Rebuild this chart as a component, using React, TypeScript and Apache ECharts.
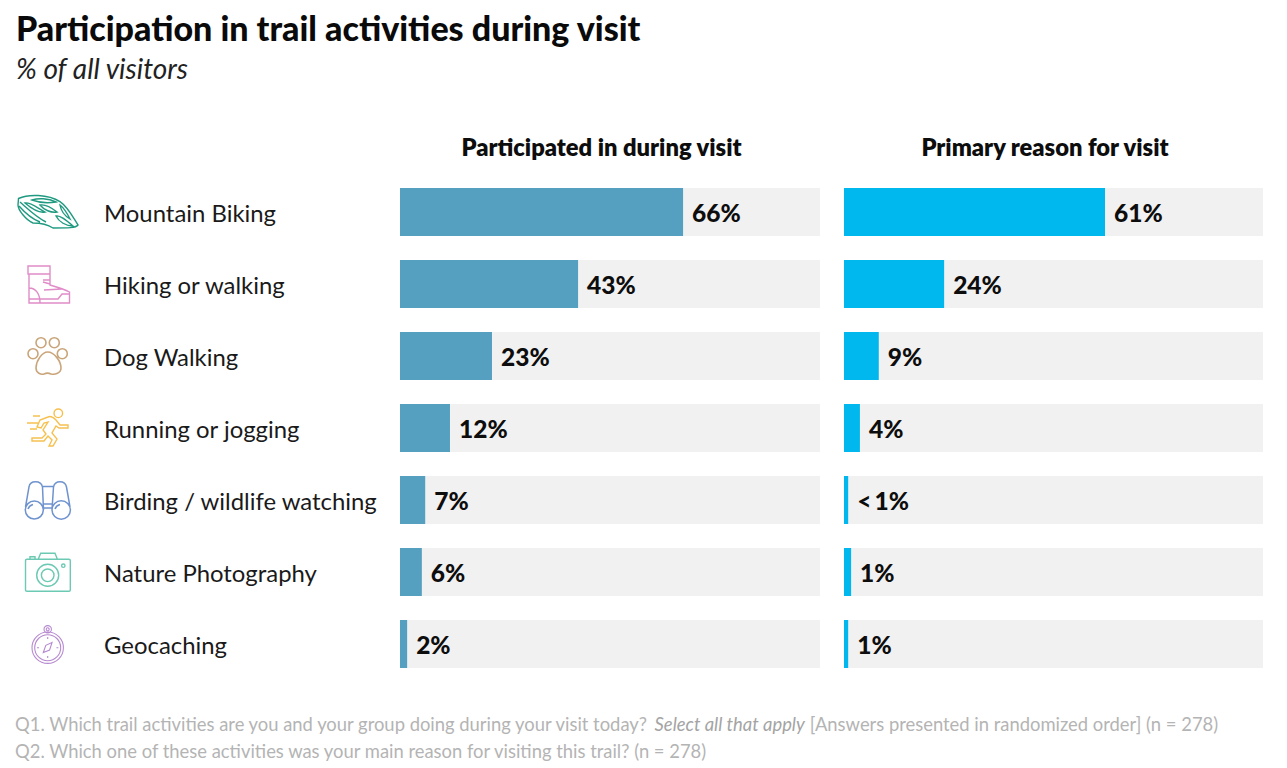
import React, { useEffect, useRef } from "react";
import * as echarts from "echarts";

const categories = ["Mountain Biking", "Hiking or walking", "Dog Walking", "Running or jogging", "Birding / wildlife watching", "Nature Photography", "Geocaching"];
const participatedValues = [67.4, 42.4, 21.9, 11.9, 6, 5.2, 1.7];
const participatedLabels = ["66%", "43%", "23%", "12%", "7%", "6%", "2%"];
const primaryValues = [62.3, 23.9, 8.3, 3.8, 1, 1.7, 1];
const primaryLabels = ["61%", "24%", "9%", "4%", "<\u20091%", "1%", "1%"];
const trackValues = [100, 100, 100, 100, 100, 100, 100];
const headers = ["Participated in during visit", "Primary reason for visit"];

const FONT = "Lato";

const icons: { name: string; color: string; w: number; d: string }[] = [
  { name: "helmet", color: "#1f9a80", w: 1.4, d: "M18.5 198.5C28 194 48 194 60 201.7C68 207 74 219 78 225C76 228 68 228 53 228C47 224 40 223 33 223C26 220 18 210 18 205ZM20 202C28 209 36 217 46 222M19 206C26 214 32 219 40 222M32 200C38 198 48 198 56 202C50 203 40 203 32 200ZM25 203C30 202 36 207 45 212C40 213 32 209 25 203ZM40 205C46 204 52 208 57 212C51 213 44 210 40 205ZM60 205C64 208 67 213 70 219C65 216 61 211 60 205ZM56 216C60 215 66 220 73 226C66 226 59 222 56 216Z" },
  { name: "boot", color: "#e08cc8", w: 1.4, d: "M28 266H50V274H28ZM29 274V303H69.5V292C64 289 57 287 50 285V274M29 288C36 288 40 294 40 303M50 280H43M50 284L43 282M44 290L62 289M29 299H58L62 294H69.5" },
  { name: "paw", color: "#c9a57a", w: 1.6, d: "M36 342.7a5 5 0 1 0 10 0a5 5 0 1 0-10 0ZM49.3 342.7a5 5 0 1 0 10 0a5 5 0 1 0-10 0ZM28 353.7a5 5 0 1 0 10 0a5 5 0 1 0-10 0ZM57.3 353.7a5 5 0 1 0 10 0a5 5 0 1 0-10 0ZM47.7 352C42 352 36 361 36 368C36 373 41 375 44 374C46 373 49 373 51 374C55 375 61 373 61 368C61 361 54 352 47.7 352Z" },
  { name: "runner", color: "#f6c04f", w: 1.4, d: "M54 413.3a4.3 4.3 0 1 0 8.6 0a4.3 4.3 0 1 0-8.6 0ZM48 417L40 420L37 427L41 428L44 423L48 422L43 430L46 434L42 438H32V441H44L48 436L52 440L49 446H53L57 439L52 433L56 426L59 428H68V425H60L56 420C53 417 50 416 48 417ZM33 416H40M27 423H38M30 429H37" },
  { name: "binoculars", color: "#6f93cf", w: 1.5, d: "M25.3 510a9 9 0 1 0 18 0a9 9 0 1 0-18 0ZM52 510a9.2 9.2 0 1 0 18.4 0a9.2 9.2 0 1 0-18.4 0ZM25.5 507L29 487C30 480 41 480 42.5 487L43.5 510M70 507L66.5 487C65 480 55 480 53.5 487L52 510M43 486.5H53M43 504H52M43 508H52M28 509C29 506 31 505 33 504.5M55 509C56 506 58 505 60 504.5" },
  { name: "camera", color: "#6cc9b3", w: 1.4, d: "M27 559.3H69C69.8 559.3 70.3 559.8 70.3 560.6V590C70.3 590.8 69.8 591.3 69 591.3H27C26 591.3 25.5 590.8 25.5 590V560.6C25.5 559.8 26 559.3 27 559.3ZM36.7 575.3a11 11 0 1 0 22 0a11 11 0 1 0-22 0ZM41.4 575.3a6.3 6.3 0 1 0 12.6 0a6.3 6.3 0 1 0-12.6 0ZM61.6 565.7a1.7 1.7 0 1 0 3.4 0a1.7 1.7 0 1 0-3.4 0ZM38.3 559L40.7 553.3H55L57.3 559M30 559V556.7H35V559" },
  { name: "compass", color: "#b78ad0", w: 1.1, d: "M32 647.7a15.7 15.7 0 1 0 31.4 0a15.7 15.7 0 1 0-31.4 0ZM34.7 647.7a13 13 0 1 0 26 0a13 13 0 1 0-26 0ZM44 629.3a3.7 3.7 0 1 0 7.4 0a3.7 3.7 0 1 0-7.4 0ZM46.2 629.3a1.5 1.5 0 1 0 3 0a1.5 1.5 0 1 0-3 0ZM52 642.6L49.6 650L43.3 652.6L45.8 645.3ZM47.7 637V639M47.7 656V658M37 647.7H39M56.4 647.7H58.4" },
];
icons.forEach((ic) => echarts.graphic.registerShape("icon_" + ic.name, (echarts.graphic as any).extendPath(ic.d, {})));

export default function App() {
  const ref = useRef<HTMLDivElement>(null);
  useEffect(() => {
    document.body.style.margin = "0";
    document.body.style.background = "#fff";
    const chart = echarts.init(ref.current!, undefined, { renderer: "svg" });
    const barSeries = (i: number, values: number[], labels: string[], color: string) => [
      {
        type: "bar", xAxisIndex: i, yAxisIndex: i, data: trackValues, barWidth: 48, barGap: "-100%", silent: true, z: 1,
        itemStyle: { color: "#f1f1f1" },
      },
      {
        type: "bar", xAxisIndex: i, yAxisIndex: i, data: values, barWidth: 48, z: 2,
        itemStyle: { color },
        label: {
          show: true, position: "right", distance: 9, padding: [0, 0, 4, 0],
          formatter: (p: any) => labels[p.dataIndex],
          fontFamily: FONT, fontWeight: 900, fontSize: 24.5, color: "#0d0d0d",
        },
      },
    ];
    chart.setOption({
      animation: false,
      backgroundColor: "#fff",
      title: [
        { text: "Participation in trail activities during visit", left: 11, top: 5, textStyle: { fontFamily: FONT, fontWeight: 900, fontSize: 34, color: "#0a0a0a" } },
        { text: "% of all visitors", left: 11, top: 49, textStyle: { fontFamily: FONT, fontStyle: "italic", fontWeight: 400, fontSize: 28, color: "#222" } },
        {
          text: "{n|Q1. Which trail activities are you and your group doing during your visit today? }{i|Select all that apply}{n| [Answers presented in randomized order] (n = 278)}\n{n|Q2. Which one of these activities was your main reason for visiting this trail? (n = 278)}",
          left: 10, top: 705,
          textStyle: {
            lineHeight: 27, fontWeight: 400,
            rich: {
              n: { fontFamily: FONT, fontSize: 18.4, fontWeight: 400, color: "#b4b4b4", lineHeight: 27 },
              i: { fontFamily: FONT, fontSize: 18.4, fontWeight: 400, fontStyle: "italic", color: "#a4a4a4", lineHeight: 27 },
            },
          },
        },
      ],
      grid: [
        { left: 400, width: 420, top: 176, height: 504 },
        { left: 844, width: 419, top: 176, height: 504 },
      ],
      xAxis: [0, 1].map((i) => ({
        gridIndex: i, type: "value", min: 0, max: 100, position: "top",
        name: headers[i], nameLocation: "middle", nameGap: 17,
        nameTextStyle: { fontFamily: FONT, fontWeight: 800, fontSize: 23.7, color: "#0d0d0d", padding: [0, 17, 0, 0] },
        axisLine: { show: false }, axisTick: { show: false }, axisLabel: { show: false }, splitLine: { show: false },
      })),
      yAxis: [
        {
          gridIndex: 0, type: "category", inverse: true, data: categories,
          axisLine: { show: false }, axisTick: { show: false },
          axisLabel: { align: "left", margin: 296, fontFamily: FONT, fontSize: 23.9, color: "#1a1a1a", padding: [0, 0, 6, 0] },
        },
        {
          gridIndex: 1, type: "category", inverse: true, data: categories,
          axisLine: { show: false }, axisTick: { show: false }, axisLabel: { show: false },
        },
      ],
      series: [...barSeries(0, participatedValues, participatedLabels, "#559fc0"), ...barSeries(1, primaryValues, primaryLabels, "#00b8ee")],
      graphic: icons.map((ic) => ({
        type: "icon_" + ic.name, x: 0, y: 0,
        style: { fill: "none", stroke: ic.color, lineWidth: ic.w },
      })),
    });
    return () => chart.dispose();
  }, []);
  return <div ref={ref} style={{ width: 1287, height: 768 }} />;
}
